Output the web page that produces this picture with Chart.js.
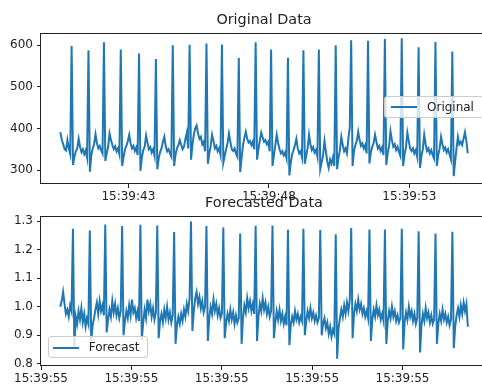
<!DOCTYPE html>
<html>
<head>
<meta charset="utf-8">
<script src="https://cdn.jsdelivr.net/npm/chart.js@4"></script>
<style>
  body { margin:0; width:482px; height:387px; overflow:hidden; background:#fff; position:relative; font-family:'DejaVu Sans', sans-serif; }
  canvas { position:absolute; left:0; }
  .title { position:absolute; font-size:14.4px; line-height:1; color:#222; white-space:nowrap; transform:translateX(-50%); }
  .legend { position:absolute; width:100px; height:22px; box-sizing:border-box; border:1px solid #cccccc; border-radius:3px; background:rgba(255,255,255,0.8); font-size:12px; color:#222; }
  .legend .swatch { position:absolute; height:0; width:26px; border-top:2px solid #1f77b4; }
  .legend span { position:absolute; line-height:1; white-space:nowrap; }
</style>
</head>
<body>
<canvas id="origChart" width="487" height="205" style="top:0"></canvas>
<canvas id="fcChart" width="487" height="182" style="top:205px"></canvas>

<div class="title" style="left:264px; top:12px">Original Data</div>
<div class="title" style="left:264px; top:194.5px">Forecasted Data</div>

<div class="legend" style="left:384px; top:96px">
  <div class="swatch" style="left:6px; top:9px"></div>
  <span style="left:42px; top:3.5px">Original</span>
</div>
<div class="legend" style="left:47.7px; top:336px">
  <div class="swatch" style="left:4px; top:10px"></div>
  <span style="left:40px; top:4px">Forecast</span>
</div>

<script>
// sampling of each series (seconds after 15:39:00)
const origStart = 40.58;
const origStep = 0.05;
const fcStart = 55.0427;
const fcStep = 0.00311;

// original signal
const origValues = [
  391,372,362,350,347,372,352,338,
  598,312,332,345,352,375,356,343,350,338,347,330,
  588,296,335,352,362,386,365,352,358,348,340,
  607,322,340,356,388,372,360,350,357,345,352,338,
  590,310,332,350,358,370,385,364,352,358,346,354,336,
  580,298,330,348,356,383,366,350,355,342,350,334,
  567,302,328,343,352,368,380,357,345,350,340,332,
  600,310,338,352,360,372,360,350,356,375,390,352,
  601,325,360,385,400,407,388,375,380,362,368,345,
  604,315,340,358,385,370,352,358,345,352,336,
  602,318,335,350,365,388,368,350,346,352,340,332,
  570,295,330,360,378,392,375,366,370,360,368,350,
  607,325,350,372,390,378,368,372,362,368,345,
  590,310,335,360,385,365,350,340,345,335,342,328,
  570,287,318,338,348,360,375,352,340,345,330,
  588,315,335,352,385,362,348,355,342,348,332,
  590,302,318,335,370,345,320,305,325,315,330,310,
  600,302,330,348,380,360,345,352,340,375,402,
  612,310,345,360,370,392,372,358,364,352,360,340,
  611,316,342,356,365,385,368,352,358,346,354,336,
  615,312,340,358,393,372,356,362,348,356,344,334,
  617,310,338,354,390,370,352,346,352,340,348,332,
  595,305,333,350,385,362,346,352,340,348,336,328,
  608,310,336,352,380,362,348,354,342,350,338,326,
  585,285,320,352,380,362,368,360,375,391,370,340
];

// forecast signal
const fcValues = [
  1.000,1.020,1.052,1.010,0.975,0.990,0.965,1.005,0.985,
  1.273,0.853,0.965,0.940,0.985,0.955,0.995,0.945,0.975,0.930,0.960,0.940,
  1.267,0.880,0.935,0.960,0.990,1.015,0.975,1.020,0.985,1.005,0.970,
  1.288,0.910,0.955,0.990,0.965,1.020,0.980,1.010,0.970,0.995,0.960,0.985,
  1.283,0.900,0.950,0.985,0.960,1.005,0.970,1.025,0.980,0.995,0.960,0.985,0.950,
  1.287,0.885,0.945,0.990,0.960,1.025,0.985,1.010,0.965,0.995,0.955,0.980,
  1.285,0.890,0.950,0.975,0.945,0.990,0.960,1.000,0.955,0.980,0.945,0.970,
  1.262,0.870,0.935,0.965,0.940,0.975,0.950,0.990,0.965,1.010,0.985,1.030,
  1.299,0.915,0.985,1.030,1.052,1.010,1.035,0.995,1.020,0.980,1.000,
  1.283,0.880,0.960,1.000,0.975,1.025,0.985,1.010,0.970,0.995,0.960,0.975,
  1.278,0.890,0.945,0.975,0.950,0.990,0.955,0.980,0.940,0.970,0.945,0.960,
  1.257,0.870,0.960,1.005,0.980,1.030,0.995,1.020,0.985,1.010,0.975,
  1.284,0.880,0.965,1.010,0.985,1.030,0.990,1.015,0.975,1.000,0.965,0.985,
  1.285,0.890,0.945,0.985,0.955,0.990,0.950,0.975,0.940,0.965,0.935,
  1.270,0.865,0.935,0.965,0.945,0.985,0.955,0.975,0.945,0.965,0.950,
  1.273,0.900,0.950,0.985,0.960,0.995,0.960,0.980,0.950,0.970,0.945,0.960,
  1.269,0.900,0.940,0.960,0.925,0.945,0.905,0.930,0.895,0.920,0.905,
  1.254,0.818,0.925,0.960,0.990,0.965,1.005,0.975,1.015,0.985,1.025,
  1.276,0.890,0.975,1.010,0.985,1.025,0.990,1.010,0.975,0.995,0.965,0.985,0.960,
  1.271,0.880,0.955,0.990,0.965,1.005,0.970,0.990,0.955,0.975,0.950,
  1.271,0.870,0.950,0.985,0.960,1.000,0.965,0.985,0.950,0.970,0.945,0.960,
  1.273,0.850,0.945,0.980,0.955,1.000,0.965,0.985,0.950,0.975,0.940,0.960,
  1.265,0.840,0.935,0.975,0.950,0.995,0.960,0.980,0.945,0.970,0.940,0.955,
  1.257,0.870,0.940,0.975,0.950,0.990,0.955,0.975,0.945,0.965,0.935,0.955,
  1.263,0.855,0.930,0.970,0.995,0.965,1.005,0.975,1.015,0.985,1.010,0.930
];

// tick values
const origXTicks = [43, 48, 53];
const origYTicks = [300, 400, 500, 600];
const fcXTicks = [55.0, 55.2, 55.4, 55.6, 55.8];
const fcYTicks = [0.8, 0.9, 1.0, 1.1, 1.2, 1.3];

const tickFont = { family: 'DejaVu Sans', size: 12 };
const ink = '#222';

function clockLabel(v) {
  return '15:39:' + String(Math.floor(v + 1e-6)).padStart(2, '0');
}

// matplotlib style frame round the plot area
const framePlugin = {
  id: 'frame',
  afterDraw(chart) {
    const a = chart.chartArea, ctx = chart.ctx;
    ctx.save();
    ctx.strokeStyle = ink;
    ctx.lineWidth = 1;
    ctx.strokeRect(Math.round(a.left) - 0.5, Math.round(a.top) + 0.5,
                   Math.round(a.right - a.left) + 1, Math.round(a.bottom - a.top) - 1);
    ctx.restore();
  }
};

function makeChart(id, values, start, step, xr, yr, xTicks, yTicks, yFmt, padTop, xAxisH) {
  const pts = values.map((v, i) => ({ x: start + i * step, y: v }));
  return new Chart(document.getElementById(id).getContext('2d'), {
    type: 'line',
    data: { datasets: [{ data: pts, borderColor: '#1f77b4', borderWidth: 2, pointRadius: 0, tension: 0, fill: false }] },
    options: {
      responsive: false,
      animation: false,
      layout: { padding: { top: padTop, left: 0, right: 0, bottom: 0 } },
      plugins: { legend: { display: false }, tooltip: { enabled: false }, title: { display: false } },
      scales: {
        x: {
          type: 'linear', min: xr[0], max: xr[1],
          afterBuildTicks: s => { s.ticks = xTicks.map(v => ({ value: v })); },
          afterFit: s => { s.height = xAxisH; },
          grid: { drawOnChartArea: false, drawTicks: true, tickLength: 4, color: ink },
          border: { display: false },
          ticks: { padding: 2, color: ink, font: tickFont, maxRotation: 0, autoSkip: false, callback: v => clockLabel(v) }
        },
        y: {
          min: yr[0], max: yr[1],
          afterBuildTicks: s => { s.ticks = yTicks.map(v => ({ value: v })); },
          afterFit: s => { s.width = 41; },
          grid: { drawOnChartArea: false, drawTicks: true, tickLength: 4, color: ink },
          border: { display: false },
          ticks: { padding: 4, color: ink, font: tickFont, autoSkip: false, callback: yFmt }
        }
      }
    },
    plugins: [framePlugin]
  });
}

makeChart('origChart', origValues, origStart, origStep, [39.89, 55.765], [266.4, 629.5],
  origXTicks, origYTicks, v => String(v), 33, 21);
makeChart('fcChart', fcValues, fcStart, fcStep, [55.0, 55.987], [0.7923, 1.3174],
  fcXTicks, fcYTicks, v => v.toFixed(1), 10, 21);
</script>
</body>
</html>
